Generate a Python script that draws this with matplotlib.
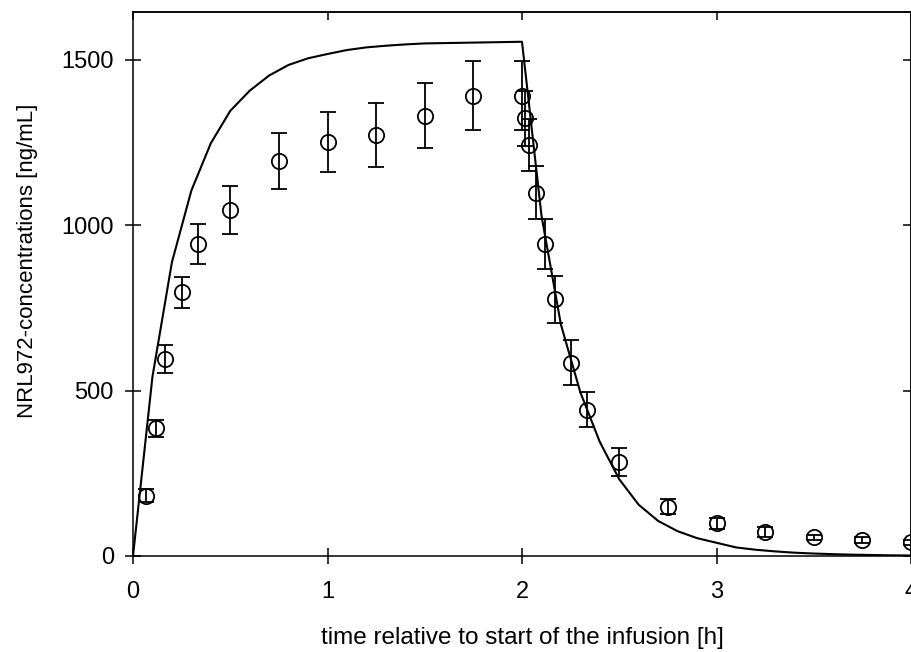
import matplotlib
matplotlib.use("Agg")
import matplotlib.pyplot as plt
import numpy as np

plt.rcParams['font.family'] = ['Liberation Sans', 'DejaVu Sans']

# observed data (mean +- SD)
obs_time = [0.067, 0.117, 0.167, 0.25, 0.333, 0.5, 0.75, 1.0, 1.25, 1.5, 1.75,
            2.0, 2.017, 2.035, 2.07, 2.12, 2.17, 2.25, 2.336, 2.5, 2.75,
            3.0, 3.25, 3.5, 3.75, 4.0]
obs_conc = [182, 386, 595, 797, 944, 1047, 1195, 1251, 1273, 1332, 1392,
            1392, 1324, 1243, 1098, 943, 776, 585, 442, 285, 149,
            99, 72, 56, 48, 41]
obs_sd = [20, 25, 43, 46, 61, 73, 84, 91, 96, 98, 104,
          104, 83, 79, 80, 75, 71, 68, 53, 42, 22,
          16, 15, 9, 8, 8]

# model prediction (sampled curve)
model_time = [0.0, 0.1, 0.2, 0.3, 0.4, 0.5, 0.6, 0.7, 0.8, 0.9, 1.0,
              1.1, 1.2, 1.3, 1.4, 1.5, 1.6, 1.7, 1.8, 1.9, 2.0,
              2.1, 2.2, 2.3, 2.4, 2.5, 2.6, 2.7, 2.8, 2.9, 3.0,
              3.1, 3.2, 3.3, 3.4, 3.5, 3.6, 3.7, 3.8, 3.9, 4.0]
model_conc = [0, 542, 888, 1105, 1248, 1346, 1407, 1453, 1485, 1505, 1518,
              1530, 1538, 1543, 1547, 1550, 1551, 1552, 1553, 1554, 1555,
              1030, 700, 495, 345, 232, 155, 106, 75, 54, 40,
              26, 19, 14, 10, 7.5, 5.5, 4, 3, 2, 1.5]

x_ticks = [0, 1, 2, 3, 4]
y_ticks = [0, 500, 1000, 1500]

fig = plt.figure(figsize=(9.12, 6.52), dpi=100)
ax = fig.add_axes([133/912, 1 - 556/652, (911 - 133)/912, (556 - 12)/652])

ax.plot(model_time, model_conc, color='black', lw=1.5, zorder=3)
ax.errorbar(obs_time, obs_conc, yerr=obs_sd, fmt='o', mfc='none', mec='black',
            ms=11, mew=1.3, ecolor='black', elinewidth=1.3, capsize=6,
            capthick=1.3, zorder=4)

ax.set_xlim(0, 4)
ax.set_ylim(0, 1645)
ax.set_xticks(x_ticks)
ax.set_yticks(y_ticks)
ax.tick_params(axis='both', direction='inout', length=11.5, width=1.1,
               labelsize=17, colors='black')
ax.tick_params(axis='x', pad=12)
ax.tick_params(axis='y', pad=8)
for s in ax.spines.values():
    s.set_linewidth(1.1)

secx = ax.secondary_xaxis('top')
secx.set_xticks(x_ticks)
secx.tick_params(direction='in', length=5.75, width=1.1, labeltop=False)
secx.spines['top'].set_linewidth(1.1)
secy = ax.secondary_yaxis('right')
secy.set_yticks(y_ticks)
secy.tick_params(direction='in', length=5.75, width=1.1, labelright=False)
secy.spines['right'].set_linewidth(1.1)

ax.set_xlabel('time relative to start of the infusion [h]', fontsize=17.5)
ax.xaxis.set_label_coords(0.5, (556 - 627) / 544)
ax.set_ylabel('NRL972-concentrations [ng/mL]', fontsize=16)
ax.yaxis.set_label_coords((38 - 133) / 778, (556 - 261) / 544)

fig.savefig('out.png', dpi=100)
